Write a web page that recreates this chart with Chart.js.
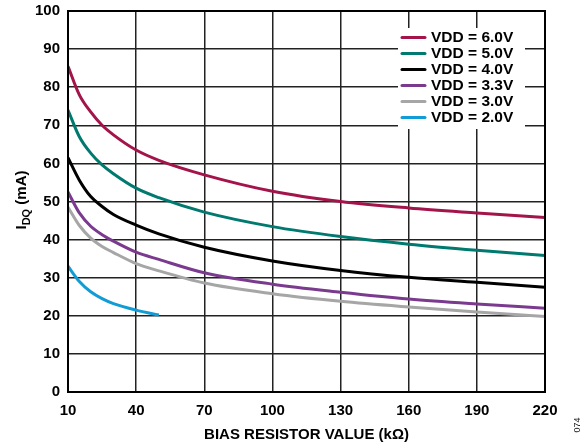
<!DOCTYPE html>
<html><head><meta charset="utf-8">
<script src="https://cdn.jsdelivr.net/npm/chart.js@4.4.0/dist/chart.umd.min.js"></script>
<style>html,body{margin:0;padding:0;background:#fff}#wrap{width:581px;height:448px;position:relative}</style>
</head><body><div id="wrap"><canvas id="c" width="581" height="448"></canvas></div>
<script>
const resistorK = [10, 15, 20, 25, 30, 40, 50, 70, 100, 130, 160, 190, 220];
const vdd60 = [85.5, 78, 73.5, 70, 67.5, 63.5, 60.8, 57, 52.7, 50, 48.3, 47, 45.8];
const vdd50 = [74, 67, 62.7, 59.6, 57.3, 53.5, 51, 47.2, 43.4, 40.8, 38.8, 37.2, 35.8];
const vdd40 = [61.5, 55.6, 51.3, 48.7, 46.6, 43.8, 41.5, 38, 34.4, 31.9, 30.1, 28.8, 27.5];
const vdd33 = [52.5, 47, 43.5, 41.3, 39.6, 36.7, 34.8, 31.3, 28.3, 26.2, 24.4, 23.1, 22];
const vdd30 = [48.5, 43.7, 40.4, 38.2, 36.6, 33.7, 31.8, 28.6, 25.8, 23.8, 22.3, 21, 19.8];
const resistorK2 = [10, 15, 20, 25, 30, 40, 50];
const vdd20 = [33, 29, 26.3, 24.5, 23.2, 21.5, 20.2];
const seriesLabels = ['VDD = 6.0V','VDD = 5.0V','VDD = 4.0V','VDD = 3.3V','VDD = 3.0V','VDD = 2.0V'];
const seriesColors = ['#A3144B','#00796F','#000000','#7A3B8F','#A6A6A6','#119CD6'];
const xTicks = [10, 40, 70, 100, 130, 160, 190, 220];

const FONT = 'Liberation Sans, Arial, sans-serif';
function pts(xs, ys){ return xs.map((x,i)=>({x:x, y:ys[i]})); }
const seriesData = [pts(resistorK,vdd60),pts(resistorK,vdd50),pts(resistorK,vdd40),pts(resistorK,vdd33),pts(resistorK,vdd30),pts(resistorK2,vdd20)];

const extras = {
  id:'extras',
  afterDraw(chart){
    const ctx = chart.ctx, ca = chart.chartArea;
    ctx.save();
    ctx.strokeStyle='#000'; ctx.lineWidth=2;
    ctx.strokeRect(ca.left, ca.top, ca.right-ca.left, ca.bottom-ca.top);
    const lx=398, ly=28, lw=127, lh=101;
    ctx.fillStyle='#fff'; ctx.fillRect(lx,ly,lw,lh);
    ctx.font='bold 15.5px '+FONT; ctx.textBaseline='middle'; ctx.textAlign='left';
    chart.data.datasets.forEach((ds,i)=>{
      const y = 37 + i*16;
      ctx.strokeStyle=ds.borderColor; ctx.lineWidth=3; ctx.lineCap='round';
      ctx.beginPath(); ctx.moveTo(402,y+0.5); ctx.lineTo(425,y+0.5); ctx.stroke();
      ctx.fillStyle='#000'; ctx.fillText(ds.label, 431, y+1);
    });
    ctx.save();
    ctx.translate(21, 200);
    ctx.rotate(-Math.PI/2);
    ctx.fillStyle='#000'; ctx.textBaseline='alphabetic'; ctx.textAlign='left';
    const p1='I', p2='DQ', p3=' (mA)';
    ctx.font='bold 15px '+FONT; const w1=ctx.measureText(p1).width;
    ctx.font='bold 11px '+FONT; const w2=ctx.measureText(p2).width;
    ctx.font='bold 15px '+FONT; const w3=ctx.measureText(p3).width;
    let x0 = -(w1+w2+w3)/2;
    ctx.font='bold 15px '+FONT; ctx.fillText(p1,x0,5);
    ctx.font='bold 11px '+FONT; ctx.fillText(p2,x0+w1,9);
    ctx.font='bold 15px '+FONT; ctx.fillText(p3,x0+w1+w2,5);
    ctx.restore();
    ctx.save();
    ctx.translate(578, 425); ctx.rotate(-Math.PI/2);
    ctx.font='9px '+FONT; ctx.fillStyle='#222'; ctx.textAlign='center'; ctx.textBaseline='middle';
    ctx.fillText('074',0,0);
    ctx.restore();
    ctx.restore();
  }
};

new Chart(document.getElementById('c'), {
  type:'line',
  data:{ datasets: seriesData.map((d,i)=>({
    label: seriesLabels[i], data:d, borderColor:seriesColors[i], backgroundColor:seriesColors[i],
    borderWidth:3, pointRadius:0, fill:false, tension:0.4, cubicInterpolationMode:'monotone'
  }))},
  options:{
    responsive:false, animation:false, devicePixelRatio:1,
    layout:{padding:{left:0,right:36,top:11,bottom:0}},
    plugins:{legend:{display:false}, tooltip:{enabled:false}},
    scales:{
      x:{type:'linear', min:10, max:220,
        afterBuildTicks(s){ s.ticks = xTicks.map(v=>({value:v})); },
        grid:{color:'#222', lineWidth:1.5, drawTicks:false},
        border:{display:false},
        ticks:{color:'#000', font:{family:FONT, size:15, weight:'bold'}, padding:10, maxRotation:0},
        title:{display:true, text:'BIAS RESISTOR VALUE (kΩ)', color:'#000', font:{family:FONT,size:15,weight:'bold'}, padding:{top:0,bottom:4}},
        afterFit(s){ s.height = 56; s.paddingLeft = 0; s.paddingRight = 0; }
      },
      y:{min:0, max:100,
        ticks:{stepSize:10, color:'#000', font:{family:FONT, size:15, weight:'bold'}, padding:8},
        grid:{color:'#222', lineWidth:1.5, drawTicks:false},
        border:{display:false},
        afterFit(s){ s.width = 68; s.paddingTop = 0; s.paddingBottom = 0; }
      }
    }
  },
  plugins:[extras]
});
</script></body></html>
